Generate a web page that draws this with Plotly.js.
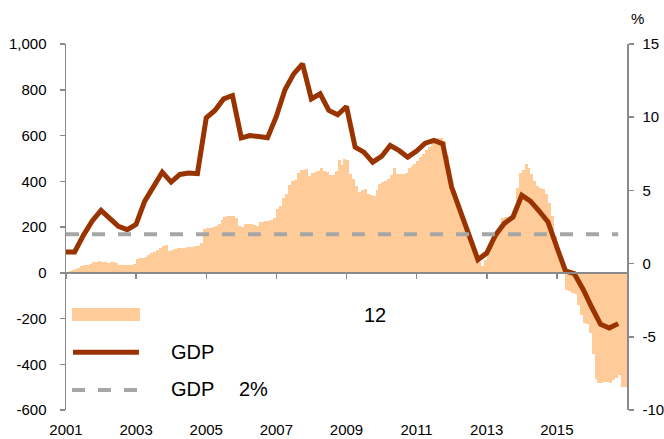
<!DOCTYPE html>
<html>
<head>
<meta charset="utf-8">
<script src="https://cdn.plot.ly/plotly-3.0.1.min.js"></script>
<style>
  html, body { margin: 0; padding: 0; background: #fff; }
  #chart { width: 664px; height: 439px; }
</style>
</head>
<body>
<div id="chart"></div>
<script>
// ---- Data ----
const startYear = 2001;
const endYear = 2016;

// Monthly bars (left axis), Jan 2001 .. Dec 2016, one row per year
const monthlyFlow = [
  5, 8, 12, 18, 22, 28, 32, 36, 40, 45, 47, 50,            // 2001
  48, 45, 44, 45, 46, 42, 36, 35, 34, 33, 36, 40,          // 2002
  62, 64, 66, 70, 78, 86, 92, 100, 108, 115, 120, 96,      // 2003
  100, 104, 107, 108, 110, 112, 113, 114, 115, 117, 130, 192, // 2004
  195, 195, 200, 205, 215, 230, 245, 248, 250, 248, 240, 205, // 2005
  198, 212, 215, 212, 210, 204, 220, 222, 225, 228, 232, 240, // 2006
  280, 290, 325, 345, 385, 400, 405, 435, 448, 450, 452, 425, // 2007
  438, 442, 445, 460, 446, 440, 428, 427, 446, 495, 470, 497, // 2008
  495, 430, 410, 380, 352, 362, 365, 345, 340, 335, 362, 390, // 2009
  398, 402, 410, 428, 456, 432, 430, 432, 435, 456, 468, 475, // 2010
  490, 505, 518, 535, 550, 575, 582, 588, 590, 578, 510, 440, // 2011
  380, 350, 310, 270, 230, 195, 155, 110, 75, 45, 30, 55,     // 2012
  80, 105, 128, 170, 200, 238, 245, 245, 248, 250, 370, 435,  // 2013
  450, 475, 460, 430, 400, 378, 370, 365, 345, 305, 250, 160, // 2014
  80, 40, 5, -75, -80, -90, -95, -140, -185, -220, -225, -265, // 2015
  -355, -465, -484, -484, -478, -477, -484, -470, -460, -448, -499, -499 // 2016
];

// Quarterly GDP growth (%), right axis, Q1 2001 .. Q4 2016
const gdpGrowth = [
  0.79, 0.79, 1.93, 2.91,
  3.64, 3.11, 2.54, 2.32,
  2.68, 4.27, 5.18, 6.25,
  5.57, 6.09, 6.18, 6.14,
  9.96, 10.46, 11.25, 11.48,
  8.59, 8.75, 8.68, 8.59,
  10.05, 11.87, 12.96, 13.64,
  11.25, 11.6, 10.46, 10.17,
  10.73, 7.95, 7.61, 6.93,
  7.32, 8.07, 7.73, 7.27,
  7.68, 8.23, 8.41, 8.18,
  5.23, 3.64, 1.93, 0.27,
  0.72, 1.93, 2.73, 3.18,
  4.66, 4.27, 3.59, 2.84,
  1.13, -0.5, -0.68, -1.75,
  -3.0, -4.15, -4.4, -4.1
];
const gdpTarget = 2;   // 2% reference level

const yearTickVals = ['2001-01-01','2003-01-01','2005-01-01','2007-01-01','2009-01-01','2011-01-01','2013-01-01','2015-01-01'];
const yearTickText = ['2001','2003','2005','2007','2009','2011','2013','2015'];
const leftTickVals = [-600,-400,-200,0,200,400,600,800,1000];
const leftTickText = ['-600','-400','-200','0','200','400','600','800','1,000'];
const rightTickVals = [-10,-5,0,5,10,15];
const rightTickText = ['-10','-5','0','5','10','15'];

const legendLabels = { bar: '12', line: 'GDP', dashA: 'GDP', dashB: '2%', unit: '%' };

// ---- Build category dates ----
const monthDates = [];
const quarterDates = [];
for (let y = startYear; y <= endYear; y++) {
  for (let m = 1; m <= 12; m++) {
    monthDates.push(y + '-' + String(m).padStart(2,'0') + '-15');
  }
  for (let q = 0; q < 4; q++) {
    quarterDates.push(y + '-' + String(q*3+1).padStart(2,'0') + '-01');
  }
}

const BAR = '#FFCC99', LINE = '#993300', DASH = '#A6A6A6', AX = '#8A8A8A';
const FONT = 'Liberation Sans, Arial, sans-serif';

const traces = [
  {
    type: 'bar', x: monthDates, y: monthlyFlow,
    width: 31 * 24 * 3600 * 1000,
    marker: { color: BAR, line: { width: 0 } },
    xaxis: 'x', yaxis: 'y', hoverinfo: 'skip', showlegend: false
  },
  {
    type: 'scatter', mode: 'lines', x: quarterDates, y: gdpGrowth,
    line: { color: LINE, width: 5 },
    xaxis: 'x', yaxis: 'y2', hoverinfo: 'skip', showlegend: false
  },
  {
    type: 'scatter', mode: 'lines', x: quarterDates, y: quarterDates.map(() => gdpTarget),
    line: { color: DASH, width: 4, dash: '13px,13px' },
    xaxis: 'x', yaxis: 'y2', hoverinfo: 'skip', showlegend: false
  },
  {
    type: 'scatter', mode: 'markers', x: [quarterDates[0]], y: [0],
    marker: { opacity: 0 },
    xaxis: 'x2', yaxis: 'y', hoverinfo: 'skip', showlegend: false
  }
];

const layout = {
  width: 664, height: 439,
  margin: { l: 66, r: 37, t: 44, b: 29, pad: 0 },
  paper_bgcolor: '#fff', plot_bgcolor: 'rgba(0,0,0,0)',
  font: { family: FONT, size: 15, color: '#000' },
  showlegend: false,
  bargap: 0,
  hovermode: false,
  xaxis: {
    type: 'date', range: ['2001-01-01', '2017-01-01'],
    tickvals: yearTickVals, ticktext: yearTickText,
    showline: false, showgrid: false, zeroline: false, ticks: '',
    ticklabelstandoff: 9,
    tickfont: { family: FONT, size: 15, color: '#000' }
  },
  xaxis2: {
    type: 'date', range: ['2001-01-01', '2017-01-01'],
    overlaying: 'x', anchor: 'free', position: 0.375,
    tickvals: yearTickVals, showticklabels: false,
    showline: true, linecolor: AX, linewidth: 2,
    ticks: 'outside', ticklen: 5, tickwidth: 1.5, tickcolor: AX,
    showgrid: false, zeroline: false
  },
  yaxis: {
    range: [-600, 1000],
    tickvals: leftTickVals, ticktext: leftTickText,
    showline: true, linecolor: AX, linewidth: 1.5,
    ticks: 'outside', ticklen: 5, tickwidth: 1.5, tickcolor: AX,
    showgrid: false, zeroline: false,
    ticklabelstandoff: 10,
    tickfont: { family: FONT, size: 15, color: '#000' }
  },
  yaxis2: {
    range: [-10, 15], overlaying: 'y', side: 'right', anchor: 'x',
    tickvals: rightTickVals, ticktext: rightTickText,
    showline: true, linecolor: AX, linewidth: 1.5,
    ticks: 'outside', ticklen: 5, tickwidth: 1.5, tickcolor: AX,
    showgrid: false, zeroline: false,
    ticklabelstandoff: 6,
    tickfont: { family: FONT, size: 15, color: '#000' }
  },
  shapes: [
    { type: 'rect', xref: 'paper', yref: 'paper', x0: 0.0107, x1: 0.1319, y0: 0.243, y1: 0.279,
      fillcolor: BAR, line: { width: 0 } },
    { type: 'line', xref: 'paper', yref: 'paper', x0: 0.0125, x1: 0.130, y0: 0.158, y1: 0.158,
      line: { color: LINE, width: 5 } },
    { type: 'line', xref: 'paper', yref: 'paper', x0: 0.0107, x1: 0.1319, y0: 0.0546, y1: 0.0546,
      line: { color: DASH, width: 4, dash: '13px,13px' } }
  ],
  annotations: [
    { xref: 'paper', yref: 'paper', x: 0.5276, y: 0.2596, xanchor: 'left', yanchor: 'middle',
      text: legendLabels.bar, showarrow: false, font: { family: FONT, size: 20, color: '#000' } },
    { xref: 'paper', yref: 'paper', x: 0.1836, y: 0.1585, xanchor: 'left', yanchor: 'middle',
      text: legendLabels.line, showarrow: false, font: { family: FONT, size: 20, color: '#000' } },
    { xref: 'paper', yref: 'paper', x: 0.1836, y: 0.0574, xanchor: 'left', yanchor: 'middle',
      text: legendLabels.dashA, showarrow: false, font: { family: FONT, size: 20, color: '#000' } },
    { xref: 'paper', yref: 'paper', x: 0.3048, y: 0.0574, xanchor: 'left', yanchor: 'middle',
      text: legendLabels.dashB, showarrow: false, font: { family: FONT, size: 20, color: '#000' } },
    { xref: 'paper', yref: 'paper', x: 1.018, y: 1.071, xanchor: 'center', yanchor: 'middle',
      text: legendLabels.unit, showarrow: false, font: { family: FONT, size: 15, color: '#000' } }
  ]
};

Plotly.newPlot('chart', traces, layout, { displayModeBar: false, staticPlot: true });
</script>
</body>
</html>
